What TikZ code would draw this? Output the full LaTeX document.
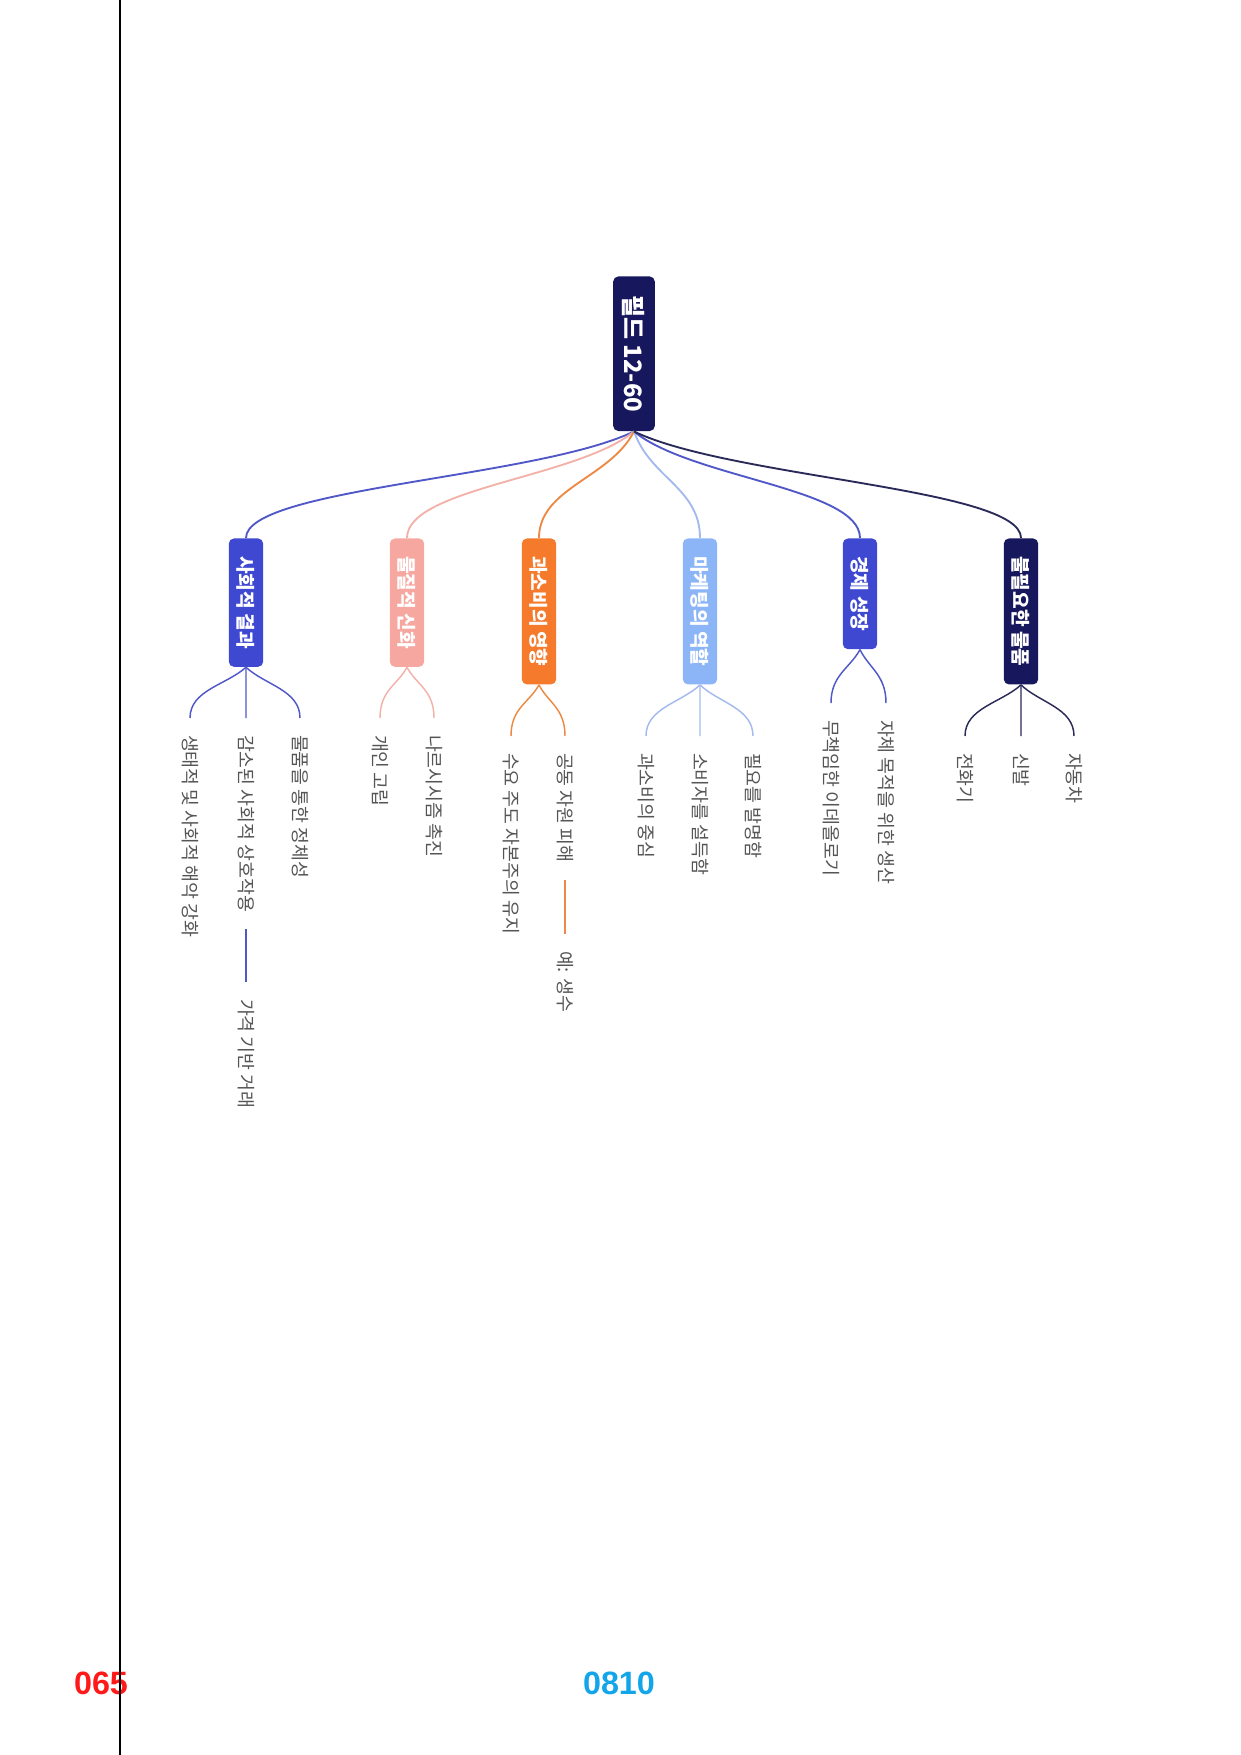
\documentclass[tikz,border=0pt]{standalone}
\usepackage{fontspec}
\setmainfont{Noto Sans CJK KR}
\newfontfamily\numfont{Liberation Sans}
\usetikzlibrary{calc}

\definecolor{mmnavy}{HTML}{17175E}
\definecolor{mmroyal}{HTML}{3F48D0}
\definecolor{mmsalmon}{HTML}{F6A7A0}
\definecolor{mmorange}{HTML}{F57A2C}
\definecolor{mmsky}{HTML}{8CB5F7}
\definecolor{linkroyal}{HTML}{5058C8}
\definecolor{linksalmon}{HTML}{F2B2AA}
\definecolor{linkorange}{HTML}{EC8A45}
\definecolor{linksky}{HTML}{A4BAEE}
\definecolor{linknavy}{HTML}{2A2A58}
\definecolor{leafgray}{HTML}{555555}
\definecolor{pagered}{HTML}{FF1A1A}
\definecolor{pagecyan}{HTML}{12A5EA}

\begin{document}
\begin{tikzpicture}[x=0.48pt,y=-0.48pt,
  topic/.style={rotate=-90,anchor=west,rounded corners=2.5pt,text=white,
    font=\fontsize{9.2}{10}\selectfont\bfseries,minimum height=16.5pt,
    inner xsep=8.6pt,inner ysep=0pt},
  leaf/.style={rotate=-90,anchor=west,text=leafgray,
    font=\fontsize{8.8}{10}\selectfont,inner xsep=8pt,inner ysep=1pt},
  bough/.style={line width=0.9pt,to path={.. controls ($(\tikztostart)!.25!(\tikztotarget)+(0,20)$)
    and ($(\tikztotarget)+(0,-50)$) .. (\tikztotarget)}},
  twig/.style={line width=0.7pt,to path={.. controls ($(\tikztostart)!.35!(\tikztotarget)$)
    and ($(\tikztotarget)+(0,-28)$) .. (\tikztotarget)}}]
\useasboundingbox (0,0) rectangle (1241,1755);

% root and main topics
\node[topic,fill=mmnavy,minimum height=20pt,inner xsep=9pt,
  font=\fontsize{11.5}{12}\selectfont\bfseries] (root) at (634,276) {필드 12-60};
\node[topic,fill=mmroyal] (social) at (246,538) {사회적 결과};
\node[topic,fill=mmsalmon] (myth) at (407,538) {물질적 신화};
\node[topic,fill=mmorange] (impact) at (539,538) {과소비의 영향};
\node[topic,fill=mmsky] (marketing) at (700,538) {마케팅의 역할};
\node[topic,fill=mmroyal] (growth) at (860,538) {경제 성장};
\node[topic,fill=mmnavy] (goods) at (1021,538) {불필요한 물품};

\draw[bough,linkroyal] (root.east) to (social.west);
\draw[bough,linksalmon] (root.east) to (myth.west);
\draw[bough,linkorange] (root.east) to (impact.west);
\draw[bough,linksky] (root.east) to (marketing.west);
\draw[bough,linkroyal] (root.east) to (growth.west);
\draw[bough,linknavy] (root.east) to (goods.west);

% leaves
\node[leaf] (harm) at (190,718) {생태적 및 사회적 해악 강화};
\node[leaf] (interact) at (246,718) {감소된 사회적 상호작용};
\node[leaf] (trade) at (246,982) {가격 기반 거래};
\node[leaf] (identity) at (300,718) {물품을 통한 정체성};
\node[leaf] (isolation) at (380,718) {개인 고립};
\node[leaf] (narcissism) at (434,718) {나르시시즘 촉진};
\node[leaf] (capitalism) at (511,736) {수요 주도 자본주의 유지};
\node[leaf] (commons) at (565,736) {공동 자원 피해};
\node[leaf] (water) at (565,934) {예: 생수};
\node[leaf] (center) at (646,736) {과소비의 중심};
\node[leaf] (persuade) at (700,736) {소비자를 설득함};
\node[leaf] (invent) at (753,736) {필요를 발명함};
\node[leaf] (ideology) at (831,703) {무책임한 이데올로기};
\node[leaf] (production) at (886,703) {자체 목적을 위한 생산};
\node[leaf] (phone) at (965,736) {전화기};
\node[leaf] (shoes) at (1021,736) {신발};
\node[leaf] (car) at (1074,736) {자동차};

\draw[twig,linkroyal] (social.east) to (harm.west);
\draw[twig,linkroyal] (social.east) to (interact.west);
\draw[twig,linkroyal] (social.east) to (identity.west);
\draw[linkroyal,line width=0.7pt] (interact.east) -- (trade.west);
\draw[twig,linksalmon] (myth.east) to (isolation.west);
\draw[twig,linksalmon] (myth.east) to (narcissism.west);
\draw[twig,linkorange] (impact.east) to (capitalism.west);
\draw[twig,linkorange] (impact.east) to (commons.west);
\draw[linkorange,line width=0.7pt] (commons.east) -- (water.west);
\draw[twig,linksky] (marketing.east) to (center.west);
\draw[twig,linksky] (marketing.east) to (persuade.west);
\draw[twig,linksky] (marketing.east) to (invent.west);
\draw[twig,linkroyal] (growth.east) to (ideology.west);
\draw[twig,linkroyal] (growth.east) to (production.west);
\draw[twig,linknavy] (goods.east) to (phone.west);
\draw[twig,linknavy] (goods.east) to (shoes.west);
\draw[twig,linknavy] (goods.east) to (car.west);

% page marks
\node[text=pagered,font=\numfont\bfseries\fontsize{15.5}{16}\selectfont] (pagenum) at (101,1683) {065};
\node[text=pagecyan,font=\numfont\bfseries\fontsize{15.5}{16}\selectfont] (pagecode) at (619,1683) {0810};
\draw[black,line width=0.5pt] (120,0) -- (120,1755);
\end{tikzpicture}
\end{document}
